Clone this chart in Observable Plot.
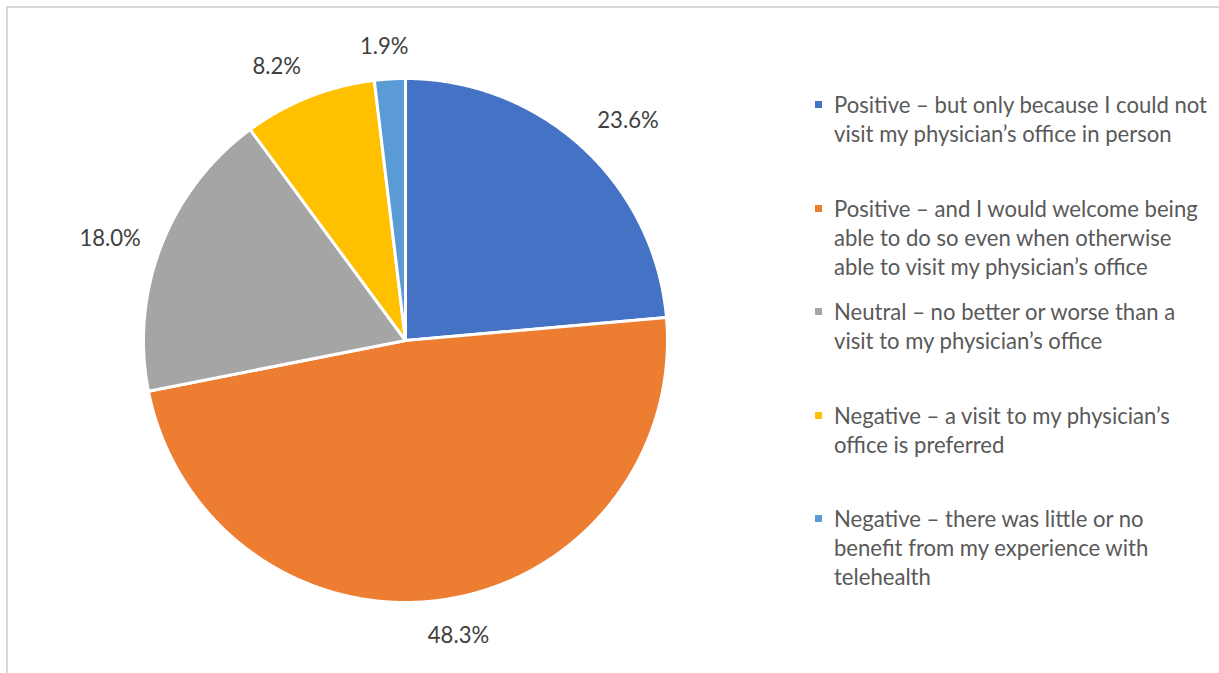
<!DOCTYPE html>
<html>
<head>
<meta charset="utf-8">
<script src="https://cdn.jsdelivr.net/npm/d3@7"></script>
<script src="https://cdn.jsdelivr.net/npm/@observablehq/plot@0.6"></script>
<style>
  html, body { margin: 0; padding: 0; background: #fff; }
  #wrap { position: relative; width: 1219px; height: 673px; overflow: hidden; font-family: Lato, "Open Sans", sans-serif; }
  #frame { position: absolute; left: 6px; top: 6px; width: 1300px; height: 700px; border: 2px solid #d9d9d9; box-sizing: border-box; }
  #chart { position: absolute; left: 0; top: 0; }
  #legend { position: absolute; left: 815px; top: 90px; }
  .item { display: flex; align-items: flex-start; height: 103.5px; color: #595959; }
  .sw { width: 7px; height: 7px; margin-top: 11px; margin-right: 12px; flex: none; }
  .txt { line-height: 29px; white-space: pre; }
</style>
</head>
<body>
<div id="wrap">
  <div id="frame"></div>
  <div id="chart"></div>
  <div id="legend"></div>
</div>
<script>
const categories = [
  "Positive – but only because I could not\nvisit my physician’s office in person",
  "Positive – and I would welcome being\nable to do so even when otherwise\nable to visit my physician’s office",
  "Neutral – no better or worse than a\nvisit to my physician’s office",
  "Negative – a visit to my physician’s\noffice is preferred",
  "Negative – there was little or no\nbenefit from my experience with\ntelehealth"
];
const values = [23.6, 48.3, 18.0, 8.2, 1.9];
const labels = ["23.6%", "48.3%", "18.0%", "8.2%", "1.9%"];
const colors = ["#4472C4", "#ED7D31", "#A5A5A5", "#FFC000", "#5B9BD5"];

// fit font size to the reference legend line width
const cv = document.createElement("canvas").getContext("2d");
cv.font = "100px Lato";
const w100 = cv.measureText("Positive – but only because I could not").width;
const fontSize = Math.round(373 / w100 * 100 * 10) / 10;
cv.font = fontSize + "px Lato";

const R = 262;
const pie = d3.pie().sort(null).value(d => d)(values);
const pts = [];
pie.forEach((s, i) => {
  const cat = categories[i];
  pts.push({cat, x: 0, y: 0});
  const n = Math.max(8, Math.ceil((s.endAngle - s.startAngle) / 0.005));
  for (let k = 0; k <= n; k++) {
    const a = s.startAngle + (s.endAngle - s.startAngle) * k / n;
    pts.push({cat, x: Math.sin(a), y: Math.cos(a)});
  }
  pts.push({cat, x: 0, y: 0});
});

// outside-end label placement: box pushed beyond the arc
const gap = 22, halfH = 12;
const clamp = v => Math.max(0, Math.min(1, v));
const labelData = pie.map((s, i) => {
  const a = (s.startAngle + s.endAngle) / 2;
  const dx = Math.sin(a), dy = Math.cos(a);
  const halfW = cv.measureText(labels[i]).width / 2;
  const ox = dx * gap + halfW * Math.sign(dx) * Math.min(1, 3 * Math.abs(dx));
  const oy = dy * gap + halfH * Math.sign(dy) * clamp((Math.abs(dy) - 0.35) / 0.4);
  return {x: dx + ox / R, y: dy + oy / R, text: labels[i]};
});

const plot = Plot.plot({
  width: 1219,
  height: 673,
  margin: 0,
  style: {fontFamily: "Lato, 'Open Sans', sans-serif", background: "transparent"},
  x: {domain: [-405 / R, (1219 - 405) / R], axis: null},
  y: {domain: [-(673 - 340) / R, 340 / R], axis: null},
  color: {domain: categories, range: colors},
  marks: [
    Plot.line(pts, {x: "x", y: "y", z: "cat", fill: "cat", stroke: "white", strokeWidth: 3, strokeLinejoin: "round"}),
    Plot.text(labelData, {x: "x", y: "y", dy: 2, text: "text", fontSize: fontSize, fill: "#404040"})
  ]
});
document.getElementById("chart").appendChild(plot);

const legend = document.getElementById("legend");
legend.style.fontSize = fontSize + "px";
categories.forEach((c, i) => {
  const item = document.createElement("div");
  item.className = "item";
  const sw = document.createElement("div");
  sw.className = "sw";
  sw.style.background = colors[i];
  const t = document.createElement("div");
  t.className = "txt";
  t.textContent = c;
  item.appendChild(sw);
  item.appendChild(t);
  legend.appendChild(item);
});
</script>
</body>
</html>
